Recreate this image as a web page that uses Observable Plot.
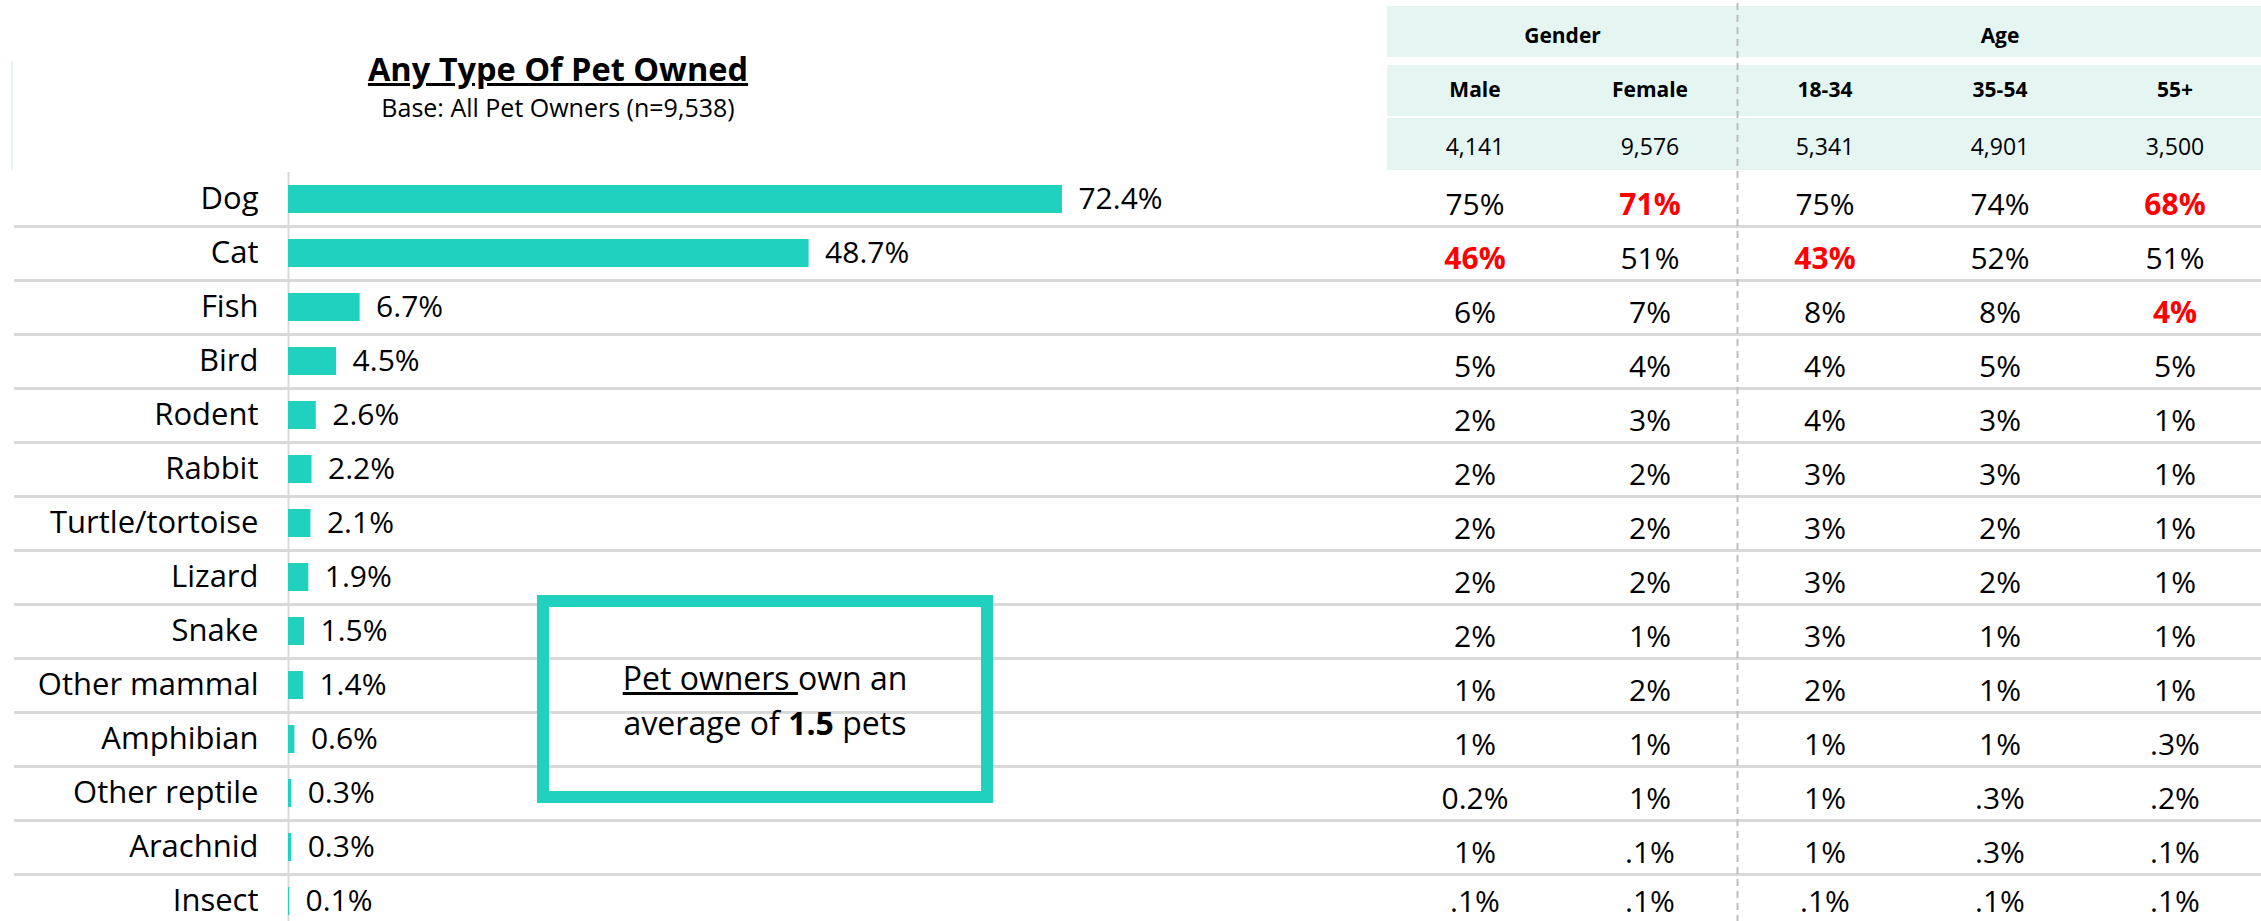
<!DOCTYPE html>
<html><head><meta charset="utf-8">
<script src="https://cdn.jsdelivr.net/npm/d3@7"></script>
<script src="https://cdn.jsdelivr.net/npm/@observablehq/plot@0.6"></script>
<style>
body{margin:0;background:#fff;}
#wrap{position:relative;width:2261px;height:921px;overflow:hidden;font-family:"Open Sans",sans-serif;color:#000;}
#wrap svg{position:absolute;left:0;top:0;}
.title{position:absolute;left:208px;width:700px;text-align:center;line-height:1;white-space:nowrap;}
#edge{position:absolute;left:11px;top:61px;width:2px;height:109px;background:#e3f6f2;}
#box{position:absolute;left:537px;top:595px;width:456px;height:208px;box-sizing:border-box;border:12px solid #21d1c0;display:flex;flex-direction:column;justify-content:center;align-items:center;font-size:32px;line-height:45px;padding-top:2px;white-space:nowrap;}
</style></head><body><div id="wrap">
<div id="edge"></div>
<div class="title" style="top:53px;font-size:32.5px;font-weight:bold;text-decoration:underline;">Any Type Of Pet Owned</div>
<div class="title" style="top:95px;font-size:25px;">Base: All Pet Owners (n=9,538)</div>
</div>
<script>
const categories = ["Dog","Cat","Fish","Bird","Rodent","Rabbit","Turtle/tortoise","Lizard","Snake","Other mammal","Amphibian","Other reptile","Arachnid","Insect"];
const shares = [72.4,48.7,6.7,4.5,2.6,2.2,2.1,1.9,1.5,1.4,0.6,0.3,0.3,0.1];
const columns = ["Male","Female","18-34","35-54","55+"];
const bases = ["4,141","9,576","5,341","4,901","3,500"];
const groupLabels = ["Gender","Age"];
const groupColumns = [["Male","Female"],["18-34","35-54","55+"]];
const male    = ["75%","46%","6%","5%","2%","2%","2%","2%","2%","1%","1%","0.2%","1%",".1%"];
const female  = ["71%","51%","7%","4%","3%","2%","2%","2%","1%","2%","1%","1%",".1%",".1%"];
const age1834 = ["75%","43%","8%","4%","4%","3%","3%","3%","3%","2%","1%","1%","1%",".1%"];
const age3554 = ["74%","52%","8%","5%","3%","3%","2%","2%","1%","1%","1%",".3%",".3%",".1%"];
const age55   = ["68%","51%","4%","5%","1%","1%","1%","1%","1%","1%",".3%",".2%",".1%",".1%"];
const lowCells = [["Dog","Female"],["Dog","55+"],["Cat","Male"],["Cat","18-34"],["Fish","55+"]];

const TEAL = "#21d1c0", HEAD = "#e5f5f2", GRID = "#d9d9d9";
const wrap = document.getElementById("wrap");
const font = {fontFamily:"'Open Sans', sans-serif", background:"transparent", overflow:"visible", color:"#000"};

const rows = categories.map((c,i) => ({category:c, share:shares[i]}));

// Left: bar chart
const bars = Plot.plot({
  width:2261, height:921, margin:0, style:font,
  x:{domain:[0,100], range:[288,1357], axis:null},
  y:{domain:categories, range:[172,928], paddingInner:0.48, paddingOuter:0.24, axis:null},
  marks:[
    Plot.ruleY(categories.slice(0,-1), {y:d=>d, dy:27, stroke:GRID, strokeWidth:3, insetLeft:14}),
    Plot.ruleX([0], {stroke:GRID, strokeWidth:2, insetTop:172}),
    Plot.barX(rows, {x:"share", y:"category", fill:TEAL}),
    Plot.text(rows, {x:"share", y:"category", text:d=>d.share.toFixed(1)+"%", dx:16, textAnchor:"start", fontSize:30, fill:"#000"}),
    Plot.text(rows, {x:()=>0, y:"category", text:"category", dx:-30, textAnchor:"end", fontSize:31, fill:"#000"})
  ]
});
wrap.appendChild(bars);

// Right: crosstab table
const colValues = [male, female, age1834, age3554, age55];
const lastCat = categories[categories.length-1];
const cells = categories.flatMap((c,i) => columns.map((col,j) => ({
  category:c, column:col, value:colValues[j][i],
  low: lowCells.some(([a,b]) => a===c && b===col)
})));
const step = 175;
const groupMarks = groupLabels.map((g,k) => {
  const cols = groupColumns[k];
  const mid = cols[Math.floor(cols.length/2)];
  const dx = cols.length % 2 === 0 ? -step/2 : 0;
  return Plot.text([g], {x:()=>mid, y:()=>"group", text:d=>d, dx, dy:-1, fontSize:21, fontWeight:"bold", fill:"#000"});
});
const table = Plot.plot({
  width:2261, height:921, margin:0, style:font,
  x:{domain:columns, range:[1387,2262], padding:0, axis:null},
  y:{domain:["group","col","base",...categories], range:[10,928], padding:0, axis:null},
  marks:[
    Plot.cell(columns, {x:d=>d, y:()=>"group", fill:HEAD, insetTop:-4, insetBottom:7}),
    Plot.cell(columns, {x:d=>d, y:()=>"col", fill:HEAD, insetTop:1, insetBottom:2}),
    Plot.cell(columns, {x:d=>d, y:()=>"base", fill:HEAD, insetTop:0, insetBottom:2}),
    Plot.ruleX([groupColumns[1][0]], {x:d=>d, dx:-step/2, stroke:"#bdbdbd", strokeWidth:2, strokeDasharray:"7,5", insetTop:3}),
    ...groupMarks,
    Plot.text(columns, {x:d=>d, y:()=>"col", text:d=>d, dy:-1, fontSize:21, fontWeight:"bold", fill:"#000"}),
    Plot.text(columns, {x:d=>d, y:()=>"base", text:(d,i)=>bases[i], dy:2, fontSize:23, fill:"#000"}),
    Plot.text(cells.filter(d=>!d.low && d.category!==lastCat), {x:"column", y:"category", text:"value", dy:6, fontSize:30, fill:"#000"}),
    Plot.text(cells.filter(d=>d.category===lastCat), {x:"column", y:"category", text:"value", dy:1, fontSize:30, fill:"#000"}),
    Plot.text(cells.filter(d=>d.low), {x:"column", y:"category", text:"value", dy:6, fontSize:30, fontWeight:"bold", fill:"#ff0000"})
  ]
});
wrap.appendChild(table);

const box = document.createElement("div");
box.id = "box";
box.innerHTML = '<div><span style="text-decoration:underline">Pet owners </span>own an</div><div>average of <b>1.5</b> pets</div>';
wrap.appendChild(box);
</script></body></html>
